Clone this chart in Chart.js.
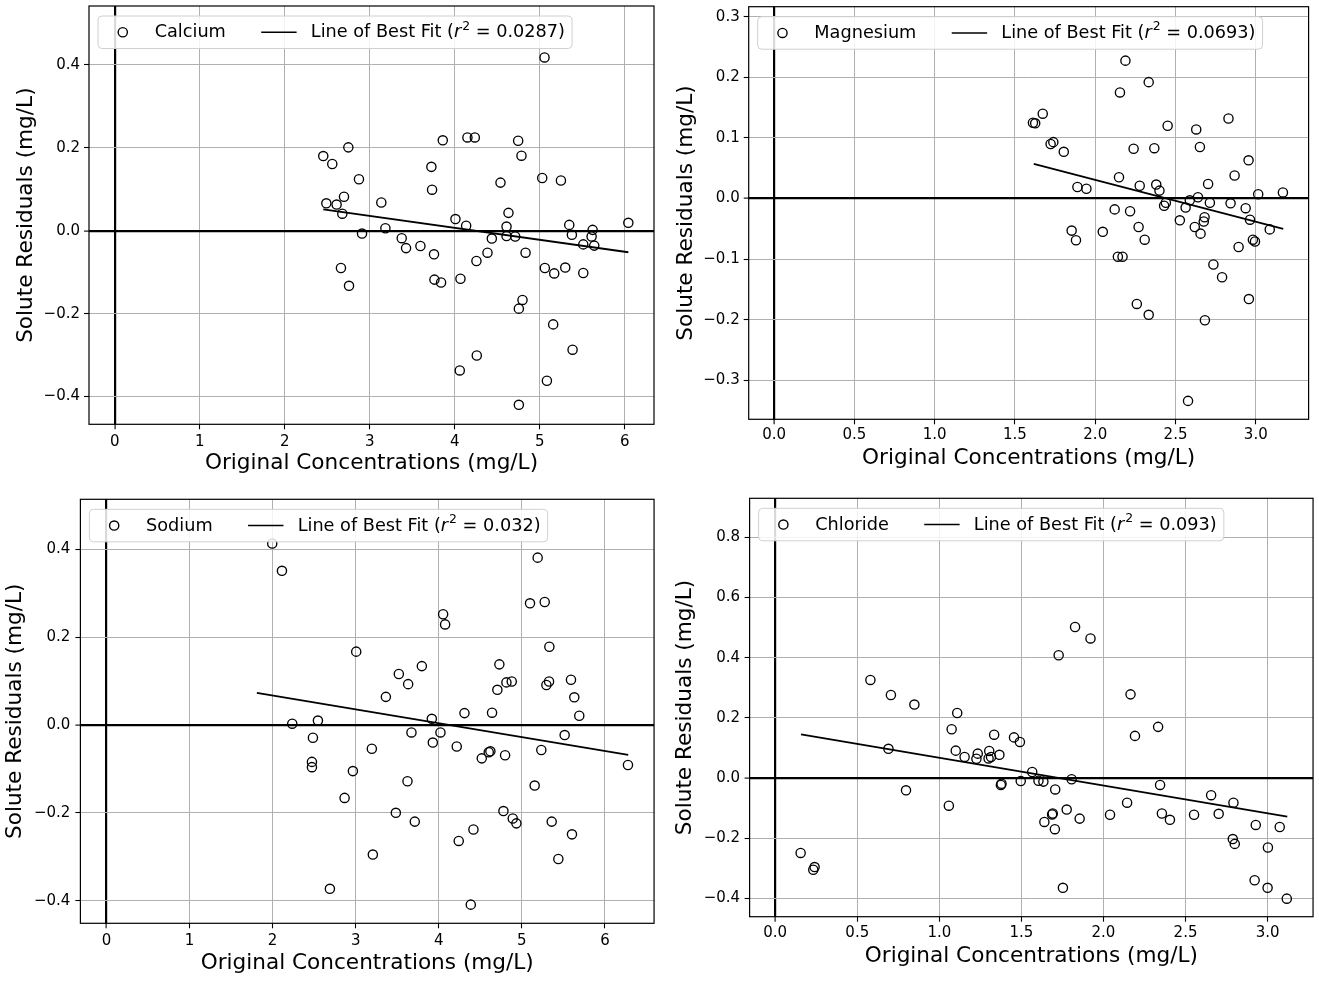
<!DOCTYPE html>
<html>
<head>
<meta charset="utf-8">
<script src="https://cdn.jsdelivr.net/npm/chart.js@4.4.1/dist/chart.umd.min.js"></script>
<style>
html,body{margin:0;padding:0;background:#fff;}
#fig{position:relative;width:1319px;height:981px;overflow:hidden;background:#fff;}
canvas{position:absolute;display:block;}
</style>
</head>
<body>
<div id="fig">
<canvas id="c1" width="660" height="490" style="left:0px;top:0px;width:660px;height:490px"></canvas>
<canvas id="c2" width="659" height="490" style="left:660px;top:0px;width:659px;height:490px"></canvas>
<canvas id="c3" width="660" height="491" style="left:0px;top:490px;width:660px;height:491px"></canvas>
<canvas id="c4" width="659" height="491" style="left:660px;top:490px;width:659px;height:491px"></canvas>
</div>
<script>
// ---------------- DATA ----------------
const xAxisTitle = 'Original Concentrations (mg/L)';
const yAxisTitle = 'Solute Residuals (mg/L)';
const fitLabel = 'Line of Best Fit';

// Calcium
const caName = 'Calcium';
const caR2 = '0.0287';
const caX = [5.057,2.454,2.560,2.749,2.874,2.490,2.611,2.698,2.678,2.910,2.662,2.757,3.137,3.185,3.377,3.428,3.597,3.726,3.734,3.757,3.762,3.840,3.860,4.150,4.237,4.009,4.135,4.068,4.060,4.260,4.256,4.386,4.437,4.539,4.633,4.610,4.610,4.712,4.834,4.747,4.786,4.798,4.755,4.755,5.030,5.250,5.061,5.171,5.301,5.159,5.387,5.085,5.348,5.379,5.513,5.513,5.623,5.611,5.642,6.043];
const caY = [0.418,0.180,0.161,0.201,0.124,0.066,0.063,0.082,0.041,-0.007,-0.090,-0.133,0.068,0.006,-0.018,-0.042,-0.037,0.154,0.099,-0.057,-0.118,-0.125,0.218,0.225,0.225,0.028,0.012,-0.116,-0.337,-0.301,-0.073,-0.053,-0.019,0.116,0.043,0.010,-0.013,-0.014,-0.053,0.217,0.181,-0.167,-0.188,-0.420,0.127,0.121,-0.090,-0.103,-0.089,-0.226,-0.287,-0.362,0.014,-0.010,-0.033,-0.102,0.002,-0.014,-0.036,0.019];
const caFitX = [2.454, 6.043];
const caFitY = [0.0515, -0.052];
const caXTicks = [0,1,2,3,4,5,6];
const caYTicks = [-0.4,-0.2,0.0,0.2,0.4];
const caXLim = [-0.302, 6.345];
const caYLim = [-0.467, 0.542];

// Magnesium
const mgName = 'Magnesium';
const mgR2 = '0.0693';
const mgX = [2.188,2.333,2.154,1.673,1.612,1.626,2.451,2.629,2.830,1.722,1.739,1.804,2.239,2.368,2.652,2.955,2.868,2.148,1.889,1.945,2.277,2.380,2.400,2.703,3.015,3.169,2.640,2.589,2.440,2.429,2.714,2.843,2.563,2.937,2.121,2.217,2.527,2.681,2.676,2.964,2.620,2.656,3.087,1.853,1.880,2.047,2.270,2.308,2.982,2.995,2.893,2.141,2.170,2.736,2.790,2.957,2.259,2.333,2.683,2.578];
const mgY = [0.2275,0.192,0.175,0.140,0.125,0.124,0.120,0.114,0.132,0.090,0.093,0.077,0.082,0.083,0.085,0.063,0.038,0.035,0.019,0.016,0.021,0.023,0.013,0.024,0.007,0.010,0.002,-0.003,-0.007,-0.012,-0.007,-0.008,-0.015,-0.016,-0.018,-0.021,-0.036,-0.031,-0.038,-0.035,-0.047,-0.058,-0.051,-0.053,-0.069,-0.055,-0.047,-0.068,-0.068,-0.071,-0.080,-0.096,-0.096,-0.109,-0.130,-0.166,-0.174,-0.192,-0.201,-0.334];
const mgFitX = [1.617, 3.171];
const mgFitY = [0.057, -0.050];
const mgXTicks = [0.0,0.5,1.0,1.5,2.0,2.5,3.0];
const mgYTicks = [-0.3,-0.2,-0.1,0.0,0.1,0.2,0.3];
const mgXLim = [-0.1586, 3.329];
const mgYLim = [-0.3644, 0.3165];

// Sodium
const naName = 'Sodium';
const naR2 = '0.032';
const naX = [1.995,2.112,5.190,5.098,5.275,4.052,4.076,5.331,3.006,3.796,3.519,3.631,3.363,4.729,4.814,4.878,4.705,5.327,5.295,5.591,5.631,5.691,4.309,4.641,3.916,2.236,2.545,2.485,2.473,2.473,3.671,4.020,3.928,3.194,4.216,4.517,4.601,4.621,4.798,5.234,5.515,6.277,2.966,3.623,2.866,5.154,3.483,3.711,4.778,4.890,4.934,5.359,5.603,4.417,4.240,5.439,3.206,2.689,4.385];
const naY = [0.413,0.351,0.381,0.277,0.280,0.252,0.229,0.178,0.167,0.134,0.116,0.093,0.064,0.138,0.097,0.099,0.080,0.099,0.091,0.103,0.063,0.021,0.027,0.028,0.014,0.003,0.010,-0.029,-0.084,-0.096,-0.017,-0.017,-0.040,-0.054,-0.049,-0.076,-0.062,-0.060,-0.069,-0.057,-0.023,-0.091,-0.105,-0.128,-0.166,-0.138,-0.200,-0.220,-0.196,-0.213,-0.224,-0.220,-0.249,-0.238,-0.264,-0.305,-0.295,-0.373,-0.409];
const naFitX = [1.81, 6.28];
const naFitY = [0.073, -0.068];
const naXTicks = [0,1,2,3,4,5,6];
const naYTicks = [-0.4,-0.2,0.0,0.2,0.4];
const naXLim = [-0.314, 6.591];
const naYLim = [-0.4515, 0.5138];

// Chloride
const clName = 'Chloride';
const clR2 = '0.093';
const clX = [1.827,1.921,1.727,0.580,0.705,0.848,1.109,2.165,1.075,2.333,2.192,1.334,1.455,1.491,0.690,1.100,1.154,1.234,1.226,1.304,1.300,1.315,1.366,1.566,1.604,1.634,1.496,1.379,1.375,1.806,1.706,0.797,2.345,1.058,2.144,2.656,2.792,1.776,1.691,1.687,1.855,2.040,2.356,2.405,2.552,2.702,1.640,1.704,2.928,3.074,2.788,2.800,3.002,0.155,0.240,0.232,2.921,3.000,1.753,3.117];
const clY = [0.502,0.464,0.408,0.326,0.276,0.244,0.216,0.278,0.162,0.170,0.140,0.144,0.135,0.120,0.097,0.091,0.070,0.081,0.064,0.090,0.065,0.070,0.077,0.020,-0.009,-0.012,-0.010,-0.019,-0.023,-0.004,-0.038,-0.041,-0.023,-0.092,-0.082,-0.057,-0.082,-0.105,-0.118,-0.121,-0.135,-0.122,-0.118,-0.139,-0.122,-0.119,-0.146,-0.170,-0.156,-0.163,-0.203,-0.219,-0.231,-0.249,-0.296,-0.305,-0.340,-0.365,-0.365,-0.401];
const clFitX = [0.157, 3.12];
const clFitY = [0.145, -0.1285];
const clXTicks = [0.0,0.5,1.0,1.5,2.0,2.5,3.0];
const clYTicks = [-0.4,-0.2,0.0,0.2,0.4,0.6,0.8];
const clXLim = [-0.156, 3.277];
const clYLim = [-0.461, 0.9297];

// ---------------- STYLE / LAYOUT ----------------
const FONT = "'DejaVu Sans', 'Liberation Sans', sans-serif";
const TICK_FS = 15, TITLE_FS = 21.6, LEG_FS = 17.7;
const TICK_LEN = 5;
Chart.defaults.color = '#000';
Chart.defaults.font.family = FONT;

const framePlugin = {
  id: 'frame',
  afterDatasetsDraw(chart) {
    const {ctx, chartArea: a} = chart;
    ctx.save();
    ctx.strokeStyle = '#000';
    ctx.lineWidth = 1.2;
    ctx.strokeRect(a.left, a.top, a.right - a.left, a.bottom - a.top);
    ctx.restore();
  }
};

const legendPlugin = {
  id: 'panelLegend',
  afterDraw(chart, args, opts) {
    const {ctx, chartArea: a} = chart;
    const fs = LEG_FS;
    const normal = fs + 'px ' + FONT;
    const italic = 'italic ' + fs + 'px ' + FONT;
    const sup = (fs * 0.7).toFixed(2) + 'px ' + FONT;
    ctx.save();
    ctx.font = normal;
    const name = opts.name;
    const tA = opts.fit + ' (';
    const tB = ' = ' + opts.r2 + ')';
    const wName = ctx.measureText(name).width;
    const wA = ctx.measureText(tA).width;
    const wB = ctx.measureText(tB).width;
    ctx.font = italic; const wR = ctx.measureText('r').width;
    ctx.font = sup; const wS = ctx.measureText('2').width;
    const pad = 0.4 * fs, hl = 2 * fs, htp = 0.8 * fs, cs = 2 * fs;
    const x0 = a.left + 9, y0 = a.top + 10, h = 32.5;
    const w = pad + hl + htp + wName + cs + hl + htp + wA + wR + 1 + wS + wB + pad;
    const r = 4;
    ctx.beginPath();
    ctx.moveTo(x0 + r, y0);
    ctx.lineTo(x0 + w - r, y0);
    ctx.arcTo(x0 + w, y0, x0 + w, y0 + r, r);
    ctx.lineTo(x0 + w, y0 + h - r);
    ctx.arcTo(x0 + w, y0 + h, x0 + w - r, y0 + h, r);
    ctx.lineTo(x0 + r, y0 + h);
    ctx.arcTo(x0, y0 + h, x0, y0 + h - r, r);
    ctx.lineTo(x0, y0 + r);
    ctx.arcTo(x0, y0, x0 + r, y0, r);
    ctx.closePath();
    ctx.fillStyle = 'rgba(255,255,255,0.85)';
    ctx.fill();
    ctx.strokeStyle = '#d0d0d0';
    ctx.lineWidth = 1;
    ctx.stroke();
    const cy = y0 + h / 2;
    ctx.beginPath();
    ctx.arc(x0 + pad + hl / 2, cy, 4.6, 0, Math.PI * 2);
    ctx.strokeStyle = '#000';
    ctx.lineWidth = 1.4;
    ctx.stroke();
    ctx.fillStyle = '#000';
    ctx.textBaseline = 'middle';
    ctx.textAlign = 'left';
    let tx = x0 + pad + hl + htp;
    ctx.font = normal;
    ctx.fillText(name, tx, cy + 0.5);
    tx += wName + cs;
    ctx.beginPath();
    ctx.moveTo(tx, cy);
    ctx.lineTo(tx + hl, cy);
    ctx.lineWidth = 1.6;
    ctx.stroke();
    tx += hl + htp;
    ctx.fillText(tA, tx, cy + 0.5);
    tx += wA;
    ctx.font = italic;
    ctx.fillText('r', tx, cy + 0.5);
    tx += wR + 1;
    ctx.font = sup;
    ctx.fillText('2', tx, cy - fs * 0.33);
    tx += wS;
    ctx.font = normal;
    ctx.fillText(tB, tx, cy + 0.5);
    ctx.restore();
  }
};

function fmt(dec) {
  return v => Number(v).toFixed(dec).replace('-', '\u2212');
}

function gridOpts() {
  return {
    color: c => (c.tick && Math.abs(c.tick.value) < 1e-9) ? '#000' : '#b0b0b0',
    lineWidth: c => (c.tick && Math.abs(c.tick.value) < 1e-9) ? 2.2 : 1,
    tickColor: '#000',
    tickLength: TICK_LEN,
    tickWidth: 1.1,
    drawTicks: true
  };
}

function makePanel(id, P, L) {
  const lhTitle = TITLE_FS * 1.2, lhTick = TICK_FS * 1.2;
  const xTickPad = L.xTickY - L.area[3] - TICK_LEN - lhTick / 2;
  new Chart(document.getElementById(id), {
    type: 'scatter',
    data: {
      datasets: [
        {
          label: P.fit,
          data: P.fitX.map((v, i) => ({x: v, y: P.fitY[i]})),
          showLine: true,
          borderColor: '#000',
          backgroundColor: '#000',
          borderWidth: 1.8,
          pointRadius: 0,
          pointHoverRadius: 0,
          order: 0
        },
        {
          label: P.name,
          data: P.x.map((v, i) => ({x: v, y: P.y[i]})),
          pointStyle: 'circle',
          pointRadius: 4.6,
          pointHoverRadius: 4.6,
          pointBorderWidth: 1.35,
          borderColor: '#000',
          backgroundColor: 'rgba(0,0,0,0)',
          showLine: false,
          order: 1
        }
      ]
    },
    options: {
      responsive: false,
      animation: false,
      events: [],
      layout: {padding: {left: 0, top: L.area[1], right: L.w - L.area[2], bottom: 0}},
      plugins: {
        legend: {display: false},
        tooltip: {enabled: false},
        panelLegend: {name: P.name, r2: P.r2, fit: P.fit}
      },
      scales: {
        x: {
          type: 'linear',
          position: 'bottom',
          min: P.xLim[0], max: P.xLim[1],
          afterBuildTicks: s => { s.ticks = P.xTicks.map(v => ({value: v})); },
          afterFit: s => { s.height = L.h - L.area[3]; s.paddingLeft = 0; s.paddingRight = 0; s.paddingTop = 0; s.paddingBottom = 0; },
          ticks: {callback: fmt(L.xDec), font: {family: FONT, size: TICK_FS}, color: '#000', padding: xTickPad, maxRotation: 0, minRotation: 0, autoSkip: false, includeBounds: false},
          grid: gridOpts(),
          border: {display: false},
          title: {display: true, text: xAxisTitle, color: '#000', font: {family: FONT, size: TITLE_FS}, padding: {top: 0, bottom: L.h - lhTitle / 2 - L.xTitleY}}
        },
        y: {
          type: 'linear',
          position: 'left',
          min: P.yLim[0], max: P.yLim[1],
          afterBuildTicks: s => { s.ticks = P.yTicks.map(v => ({value: v})); },
          afterFit: s => { s.width = L.area[0]; s.paddingLeft = 0; s.paddingRight = 0; s.paddingTop = 0; s.paddingBottom = 0; },
          ticks: {callback: fmt(L.yDec), font: {family: FONT, size: TICK_FS}, color: '#000', padding: L.yGap - TICK_LEN, autoSkip: false, includeBounds: false},
          grid: gridOpts(),
          border: {display: false},
          title: {display: true, text: yAxisTitle, color: '#000', font: {family: FONT, size: TITLE_FS}, padding: {top: L.yTitleX - lhTitle / 2, bottom: 0}}
        }
      }
    },
    plugins: [framePlugin, legendPlugin]
  });
}

makePanel('c1',
  {name: caName, r2: caR2, fit: fitLabel, x: caX, y: caY, fitX: caFitX, fitY: caFitY, xTicks: caXTicks, yTicks: caYTicks, xLim: caXLim, yLim: caYLim},
  {w: 660, h: 490, area: [89, 6, 654, 424.3], xTickY: 441.7, xTitleY: 463.3, yTitleX: 26.6, yGap: 9, xDec: 0, yDec: 1});
makePanel('c2',
  {name: mgName, r2: mgR2, fit: fitLabel, x: mgX, y: mgY, fitX: mgFitX, fitY: mgFitY, xTicks: mgXTicks, yTicks: mgYTicks, xLim: mgXLim, yLim: mgYLim},
  {w: 659, h: 490, area: [88.7, 6.7, 648.6, 419.3], xTickY: 435.5, xTitleY: 458.3, yTitleX: 25.9, yGap: 9, xDec: 1, yDec: 1});
makePanel('c3',
  {name: naName, r2: naR2, fit: fitLabel, x: naX, y: naY, fitX: naFitX, fitY: naFitY, xTicks: naXTicks, yTicks: naYTicks, xLim: naXLim, yLim: naYLim},
  {w: 660, h: 491, area: [80.4, 9.3, 655.5, 433.3], xTickY: 450.7, xTitleY: 473.3, yTitleX: 15, yGap: 10, xDec: 0, yDec: 1});
makePanel('c4',
  {name: clName, r2: clR2, fit: fitLabel, x: clX, y: clY, fitX: clFitX, fitY: clFitY, xTicks: clXTicks, yTicks: clYTicks, xLim: clXLim, yLim: clYLim},
  {w: 659, h: 491, area: [89.6, 8.3, 656.7, 426.7], xTickY: 443.3, xTitleY: 466.7, yTitleX: 25.5, yGap: 9.5, xDec: 1, yDec: 1});
</script>
</body>
</html>
